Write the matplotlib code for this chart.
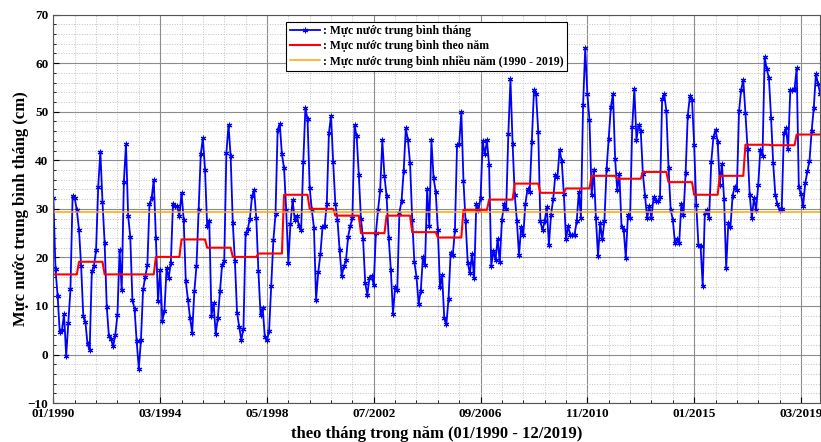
import numpy as np
import matplotlib.pyplot as plt
from matplotlib.ticker import MultipleLocator

plt.rcParams['font.family'] = ['Liberation Serif', 'DejaVu Serif']
plt.rcParams['font.weight'] = 'bold'

# muc nuoc trung binh thang (cm), 01/1990 - 12/2019, doc tu hinh
muc_nuoc_thang = [
    32.2, 17.6, 12.0, 4.6, 5.0, 8.3, -0.3, 6.5, 13.4, 32.7, 32.2, 29.7,      # 1990
    25.7, 18.2, 8.0, 6.7, 2.1, 1.0, 17.1, 18.2, 21.6, 34.6, 41.8, 31.4,      # 1991
    23.0, 9.8, 3.8, 3.1, 1.7, 4.1, 8.2, 21.5, 13.2, 35.5, 43.4, 28.6,        # 1992
    24.3, 11.3, 9.4, 2.7, -2.9, 2.9, 13.4, 16.0, 18.4, 30.9, 32.2, 36.0,     # 1993
    24.0, 11.0, 17.4, 7.0, 8.9, 17.8, 15.8, 18.9, 31.1, 30.5, 30.5, 28.5,    # 1994
    33.3, 27.8, 15.1, 11.3, 7.5, 4.5, 13.0, 18.2, 29.8, 41.2, 44.6, 38.1,    # 1995
    26.4, 27.4, 7.9, 10.6, 4.3, 7.5, 13.0, 18.5, 19.2, 41.5, 47.3, 40.8,     # 1996
    27.1, 19.2, 8.6, 5.7, 3.0, 5.3, 25.0, 25.8, 28.0, 32.6, 33.8, 28.1,      # 1997
    17.1, 8.2, 9.6, 3.6, 2.9, 4.9, 14.1, 23.5, 28.9, 46.3, 47.5, 41.2,       # 1998
    38.4, 29.8, 18.9, 26.9, 31.8, 27.8, 28.6, 26.5, 25.7, 39.6, 50.8, 48.4,  # 1999
    34.3, 29.8, 26.1, 11.3, 16.9, 20.6, 26.2, 26.5, 30.9, 45.6, 49.2, 39.6,  # 2000
    31.1, 27.8, 21.6, 16.1, 18.2, 19.4, 24.3, 26.5, 28.1, 47.3, 44.9, 37.0,  # 2001
    27.9, 23.8, 14.7, 12.3, 15.8, 16.1, 14.4, 25.0, 29.8, 33.8, 44.1, 36.8,  # 2002
    32.6, 24.0, 17.4, 8.4, 13.9, 13.2, 29.2, 31.6, 37.7, 46.6, 44.2, 39.4,   # 2003
    27.8, 19.1, 16.0, 10.5, 13.0, 20.1, 18.4, 34.1, 26.5, 44.1, 36.4, 33.5,  # 2004
    25.7, 13.9, 16.3, 7.5, 6.2, 11.5, 21.0, 20.4, 25.7, 43.2, 43.4, 49.9,    # 2005
    35.7, 27.4, 18.9, 16.7, 20.6, 15.8, 30.9, 29.7, 32.2, 43.9, 41.2, 44.1,  # 2006
    39.0, 18.2, 21.3, 19.5, 23.8, 19.0, 27.8, 30.9, 30.0, 45.4, 56.7, 43.4,  # 2007
    32.9, 27.6, 20.4, 26.2, 24.7, 31.1, 34.1, 33.4, 43.8, 54.4, 53.6, 45.9,  # 2008
    27.4, 25.6, 27.4, 30.4, 22.6, 28.8, 32.0, 37.0, 36.5, 42.2, 39.8, 33.0,  # 2009
    23.7, 26.4, 24.7, 24.7, 24.7, 27.4, 33.5, 28.1, 51.4, 63.1, 53.7, 48.2,  # 2010
    32.9, 38.1, 28.1, 20.2, 27.1, 23.7, 27.6, 38.2, 44.4, 50.9, 53.7, 40.3,  # 2011
    33.8, 37.2, 26.3, 25.7, 19.9, 28.8, 28.1, 46.8, 54.7, 44.2, 47.3, 46.0,  # 2012
    37.2, 32.7, 28.1, 30.5, 28.1, 32.4, 31.6, 31.6, 32.4, 52.6, 53.6, 50.1,  # 2013
    38.5, 29.8, 27.8, 23.0, 23.8, 23.0, 31.1, 28.8, 37.4, 49.2, 53.2, 52.5,  # 2014
    43.2, 30.7, 22.6, 22.4, 14.1, 29.2, 29.8, 28.1, 39.6, 44.7, 46.3, 43.8,  # 2015
    35.0, 39.3, 32.1, 17.8, 27.1, 26.3, 32.7, 34.6, 33.8, 50.1, 54.5, 56.6,  # 2016
    49.7, 42.4, 32.9, 28.1, 32.2, 29.8, 35.0, 42.2, 40.9, 61.2, 58.8, 56.9,  # 2017
    48.8, 39.4, 32.9, 30.9, 29.8, 30.0, 45.6, 46.6, 42.4, 54.4, 54.5, 54.7,  # 2018
    59.0, 34.4, 33.1, 30.5, 35.3, 37.7, 39.9, 46.0, 50.8, 57.8, 55.8, 53.7,  # 2019
]

# trung binh theo nam 1990 - 2019
trung_binh_nam = [16.5, 19.1, 16.5, 16.5, 20.1, 23.7, 22.0, 20.1, 20.8, 32.9,
                  30.0, 28.6, 25.0, 28.6, 25.2, 24.1, 29.8, 31.9, 35.2, 33.3,
                  34.2, 36.8, 36.2, 37.6, 35.5, 32.9, 36.8, 43.2, 43.1, 45.3]

trung_binh_nhieu_nam = 29.4

nhan_truc_x = ['01/1990', '03/1994', '05/1998', '07/2002',
               '09/2006', '11/2010', '01/2015', '03/2019']

thang = np.arange(1, len(muc_nuoc_thang) + 1)
tb_nam = np.repeat(trung_binh_nam, 12)
tb_nhieu_nam = np.full(len(thang), trung_binh_nhieu_nam)

fig, ax = plt.subplots(figsize=(8.21, 4.42), dpi=100)
fig.subplots_adjust(left=0.065, right=0.999, bottom=0.088, top=0.967)

ax.plot(thang, muc_nuoc_thang, color='blue', lw=1.3, marker=(6, 2, 0), ms=4, mew=0.8,
        label=': Mực nước trung bình tháng')
ax.plot(thang, tb_nam, color='red', lw=1.5, label=': Mực nước trung bình theo năm')
ax.plot(thang, tb_nhieu_nam, color='orange', lw=1.1,
        label=': Mực nước trung bình nhiều năm (1990 - 2019)')

ax.set_xlim(1, 360)
ax.set_ylim(-10, 70)
ax.set_xticks(np.arange(1, 361, 50))
ax.set_xticklabels(nhan_truc_x)
ax.set_xticks(np.arange(1, 361, 10), minor=True)
ax.yaxis.set_major_locator(MultipleLocator(10))
ax.yaxis.set_minor_locator(MultipleLocator(2))
ax.tick_params(which='both', direction='in', labelsize=9.5)
ax.tick_params(which='major', length=4)
ax.tick_params(which='minor', length=2)

ax.grid(which='major', color='#8c8c8c', lw=0.8)
ax.grid(which='minor', color='#c0c0c0', ls=':', lw=0.7)
ax.set_axisbelow(True)
for s in ax.spines.values():
    s.set_color('#555555')

ax.set_xlabel('theo tháng trong năm (01/1990 - 12/2019)', fontsize=12, fontweight='bold', labelpad=4)
ax.set_ylabel('Mực nước trung bình tháng (cm)', fontsize=12, fontweight='bold', labelpad=-1)

leg = ax.legend(loc='upper left', bbox_to_anchor=(0.304, 0.982), borderaxespad=0,
                fontsize=8.5, fancybox=False, edgecolor='black', framealpha=1,
                handlelength=2.5, handletextpad=0.3, labelspacing=0.25, borderpad=0.3)
leg.get_frame().set_linewidth(0.8)

plt.savefig('out.png')
